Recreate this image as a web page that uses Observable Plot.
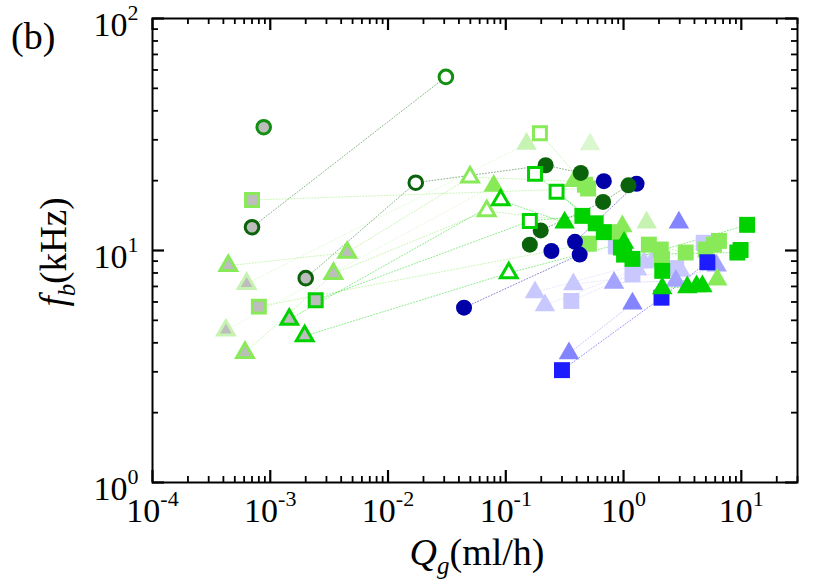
<!DOCTYPE html>
<html><head><meta charset="utf-8">
<script src="https://cdn.jsdelivr.net/npm/d3@7"></script>
<script src="https://cdn.jsdelivr.net/npm/@observablehq/plot@0.6"></script>
<style>body{margin:0;background:#fff} #chart{width:830px;height:583px}</style>
</head><body><div id="chart"></div>
<script>
// ---- tick values & labels ----
const xMajors = [1e-4, 1e-3, 1e-2, 1e-1, 1, 10];
const xTickLabels = ["10^-4", "10^-3", "10^-2", "10^-1", "10^0", "10^1"];
const yMajors = [1, 10, 100];
const yTickLabels = ["10^0", "10^1", "10^2"];
const xDomain = [1e-4, 30];
const yDomain = [1, 100];

// ---- data: [Q_g (ml/h), f_b (kHz), track id for dotted connector] ----
const dgCircleGray = [[7.0e-4, 12.6, "c1"], [2.0e-3, 7.6, "c2"]];
const mgCircleGray = [[8.8e-4, 34, null]];
const dgCircleOpen = [[0.0172, 19.6, "c2"]];
const mgCircleOpen = [[0.031, 56, "c1"]];
const dgCircleFill = [[0.218, 23.3, "c2"], [0.433, 21.6, "c2"], [0.16, 10.6, "c3"], [0.198, 12.2, "c3"], [0.67, 16.2, "c3"], [1.1, 19.1, "c3"]];
const nvCircleFill = [[0.0442, 5.67, "n1"], [0.424, 9.6, "n1"], [0.244, 9.95, null], [0.387, 10.9, "n2"], [1.29, 19.4, "n2"], [0.68, 19.9, null]];
const lgSquareGray = [[7.0e-4, 16.5, "s1"], [8.0e-4, 5.73, "s2"]];
const bgSquareGray = [[2.43e-3, 6.1, "s3"]];
const lgSquareOpen = [[0.195, 32, "s4"]];
const bgSquareOpen = [[0.177, 21.4, "s5"], [0.27, 17.9, "s6"], [0.16, 13.4, "s3"]];
const lgSquareFill = [[0.5, 18.5, "s1"], [0.47, 19.2, "s4"], [0.508, 10.7, "s2"], [0.91, 12.0, null], [1.64, 10.6, "s7"], [2.07, 10.1, null], [2.12, 9.2, null], [3.37, 9.8, "s7"], [4.98, 10.1, null], [5.85, 10.6, null], [6.46, 11.0, "s7"]];
const bgSquareFill = [[0.447, 14.1, "s3"], [0.58, 13.1, "s5"], [0.68, 12.0, "s6"], [0.95, 10.3, null], [1.01, 9.6, "s8"], [1.19, 9.2, "s9"], [2.13, 8.17, null], [9.25, 9.8, "s8"], [9.86, 10.05, null], [11.2, 12.9, "s9"]];
const lgTriGray = [[4.4e-4, 8.6, "t1"], [6.1e-4, 3.63, "t2"], [4.5e-3, 9.8, "t1"], [3.44e-3, 7.94, "t2"]];
const pgTriGray = [[6.3e-4, 7.2, "t3"], [4.2e-4, 4.53, "t4"]];
const bgTriGray = [[1.45e-3, 5.05, "t5"], [1.96e-3, 4.28, "t6"]];
const lgTriOpen = [[0.0497, 20.7, "t1"], [0.0689, 14.8, "t2"]];
const bgTriOpen = [[0.0906, 16.5, "t5"], [0.106, 8.0, "t6"]];
const lgTriFill = [[0.079, 19.0, "t4"], [0.38, 19.9, "t1"], [0.977, 12.7, "t2"], [6.25, 7.5, null]];
const pgTriFill = [[0.15, 28.8, "t3"], [1.57, 13.2, null]];
const vpgTriFill = [[0.52, 28.7, null]];
const bgTriFill = [[0.316, 13.2, "t5"], [1.01, 10.8, "t6"], [2.13, 6.87, "t7"], [3.48, 6.94, null], [4.17, 7.0, "t7"], [4.67, 7.0, null]];
const blSquareFill = [[0.3, 3.05, "b1"], [2.1, 6.26, "b1"], [5.15, 8.9, "b1"]];
const pwTriFill = [[0.344, 3.6, "b2"], [1.19, 5.9, "b2"], [2.95, 13.2, null]];
const lpwTriFill = [[0.83, 7.25, "b3"], [2.78, 7.4, "b3"], [6.17, 8.6, "b3"]];
const plTriFill = [[0.177, 6.6, "b4"], [0.215, 5.8, "b5"], [0.375, 7.15, "b6"], [1.30, 8.3, "b5"], [1.49, 8.86, "b4"], [1.76, 9.0, null], [3.05, 8.17, "b6"]];
const plSquareFill = [[0.36, 6.06, "b7"], [0.86, 10.4, null], [1.19, 7.9, "b7"], [2.8, 8.4, null], [4.8, 10.8, "b7"]];

// ---- styles ----
const GRAY = "#bdbdbd";
const C = {dg: "#0a620a", mg: "#128e12", nv: "#0000a8", bg: "#00d200", lg: "#88ea58", pg: "#c6f2b2", vpg: "#daf7d0",
  bl: "#1c1cff", pw: "#8484ff", lpw: "#a4a4ff", pl: "#c8c8ff"};

const groups = [
  {data: plSquareFill, symbol: "square", color: C.pl, kind: "fill"},
  {data: plTriFill, symbol: "triangle", color: C.pl, kind: "fill"},
  {data: lpwTriFill, symbol: "triangle", color: C.lpw, kind: "fill"},
  {data: pwTriFill, symbol: "triangle", color: C.pw, kind: "fill"},
  {data: lgSquareFill, symbol: "square", color: C.lg, kind: "fill"},
  {data: blSquareFill, symbol: "square", color: C.bl, kind: "fill"},
  {data: pgTriFill, symbol: "triangle", color: C.pg, kind: "fill"},
  {data: vpgTriFill, symbol: "triangle", color: C.vpg, kind: "fill"},
  {data: lgTriFill, symbol: "triangle", color: C.lg, kind: "fill"},
  {data: bgSquareFill, symbol: "square", color: C.bg, kind: "fill"},
  {data: bgTriFill, symbol: "triangle", color: C.bg, kind: "fill"},
  {data: nvCircleFill, symbol: "circle", color: C.nv, kind: "fill"},
  {data: dgCircleFill, symbol: "circle", color: C.dg, kind: "fill"},
  {data: lgSquareOpen, symbol: "square", color: C.lg, kind: "open"},
  {data: bgSquareOpen, symbol: "square", color: C.bg, kind: "open"},
  {data: lgTriOpen, symbol: "triangle", color: C.lg, kind: "open"},
  {data: bgTriOpen, symbol: "triangle", color: C.bg, kind: "open"},
  {data: dgCircleOpen, symbol: "circle", color: C.dg, kind: "open"},
  {data: mgCircleOpen, symbol: "circle", color: C.mg, kind: "open"},
  {data: lgSquareGray, symbol: "square", color: C.lg, kind: "gray"},
  {data: bgSquareGray, symbol: "square", color: C.bg, kind: "gray"},
  {data: lgTriGray, symbol: "triangle", color: C.lg, kind: "gray"},
  {data: pgTriGray, symbol: "triangle", color: C.pg, kind: "gray"},
  {data: bgTriGray, symbol: "triangle", color: C.bg, kind: "gray"},
  {data: dgCircleGray, symbol: "circle", color: C.dg, kind: "gray"},
  {data: mgCircleGray, symbol: "circle", color: C.mg, kind: "gray"}
];

const sizeFill = {circle: 8, square: 9, triangle: 7.6};
const sizeLine = {circle: 6.8, square: 7.3, triangle: 6.2};

const rowsOf = g => g.data.map(([q, f, track]) => ({q, f, track, color: g.color}));
const lineRows = d3.sort(groups.flatMap(rowsOf).filter(d => d.track), d => d.q);

const dotMarks = groups.map(g => {
  const filled = g.kind === "fill";
  return Plot.dot(rowsOf(g), {
    x: "q", y: "f", symbol: g.symbol,
    r: filled ? sizeFill[g.symbol] : sizeLine[g.symbol],
    fill: filled ? g.color : g.kind === "gray" ? GRAY : "white",
    stroke: filled ? "none" : g.color,
    strokeWidth: filled ? 0 : 3
  });
});

const W = 830, H = 583, ML = 152, MR = 33, MT = 18, MB = 101;
const FW = W - ML - MR, FH = H - MT - MB;
const MAJ = 12, MIN = 6;
const xMinor = xMajors.flatMap(m => d3.range(2, 10).map(k => k * m)).filter(v => v <= xDomain[1]);
const yMinor = [1, 10].flatMap(m => d3.range(2, 10).map(k => k * m));
const TK = "black";

const svg = Plot.plot({
  width: W, height: H,
  marginLeft: ML, marginRight: MR, marginTop: MT, marginBottom: MB,
  x: {type: "log", domain: xDomain},
  y: {type: "log", domain: yDomain},
  style: {fontFamily: "'Liberation Serif', 'Times New Roman', serif", fontSize: "34px", background: "white"},
  marks: [
    Plot.line(lineRows, {x: "q", y: "f", z: "track", stroke: "color", strokeWidth: 0.8, strokeDasharray: "1,2", strokeOpacity: 0.6}),
    ...dotMarks,
    Plot.tickX(xMajors, {x: d => d, insetTop: FH - MAJ, stroke: TK, strokeWidth: 2.2}),
    Plot.tickX(xMinor, {x: d => d, insetTop: FH - MIN, stroke: TK, strokeWidth: 1.8}),
    Plot.tickX(xMajors, {x: d => d, insetBottom: FH - MAJ, stroke: TK, strokeWidth: 2.2}),
    Plot.tickX(xMinor, {x: d => d, insetBottom: FH - MIN, stroke: TK, strokeWidth: 1.8}),
    Plot.tickY(yMajors, {y: d => d, insetRight: FW - MAJ, stroke: TK, strokeWidth: 2.2}),
    Plot.tickY(yMinor, {y: d => d, insetRight: FW - MIN, stroke: TK, strokeWidth: 1.8}),
    Plot.tickY(yMajors, {y: d => d, insetLeft: FW - MAJ, stroke: TK, strokeWidth: 2.2}),
    Plot.tickY(yMinor, {y: d => d, insetLeft: FW - MIN, stroke: TK, strokeWidth: 1.8}),
    Plot.axisX({ticks: xMajors, anchor: "bottom", tickSize: 0, tickPadding: 15, label: null,
      tickFormat: d => xTickLabels[xMajors.indexOf(d)]}),
    Plot.axisY({ticks: yMajors, anchor: "left", tickSize: 0, tickPadding: 14, dy: 7, label: null,
      tickFormat: d => yTickLabels[yMajors.indexOf(d)]}),
    Plot.frame({stroke: "black", strokeWidth: 2})
  ]
});

const root = d3.select(svg);
root.selectAll('g[aria-label="x-axis tick label"] text, g[aria-label="y-axis tick label"] text').each(function() {
  const parts = this.textContent.split("^");
  if (parts.length !== 2) return;
  const s = d3.select(this);
  s.text(null);
  s.append("tspan").text(parts[0]);
  s.append("tspan").attr("dy", "-16px").attr("font-size", "22px").text(parts[1]);
});

const serif = "'Liberation Serif', 'Times New Roman', serif";
const titles = root.append("g").attr("font-family", serif).attr("fill", "black");
const xt = titles.append("text").attr("x", 477).attr("y", 565).attr("text-anchor", "middle").attr("font-size", 38);
xt.append("tspan").attr("font-style", "italic").text("Q");
xt.append("tspan").attr("font-style", "italic").attr("font-size", 25).attr("dy", 9).text("g");
xt.append("tspan").attr("dy", -9).text("(ml/h)");
const yg = titles.append("g").attr("transform", "translate(66,252) rotate(-90)");
const yt = yg.append("text").attr("x", 0).attr("y", 0).attr("text-anchor", "middle").attr("font-size", 37);
yt.append("tspan").attr("font-style", "italic").text("f");
yt.append("tspan").attr("font-style", "italic").attr("font-size", 25).attr("dy", 9).text("b");
yt.append("tspan").attr("dy", -9).text("(kHz)");
titles.append("text").attr("x", 11).attr("y", 49).attr("font-size", 38).attr("text-anchor", "start").text("(b)");

document.getElementById("chart").appendChild(svg);
</script></body></html>
